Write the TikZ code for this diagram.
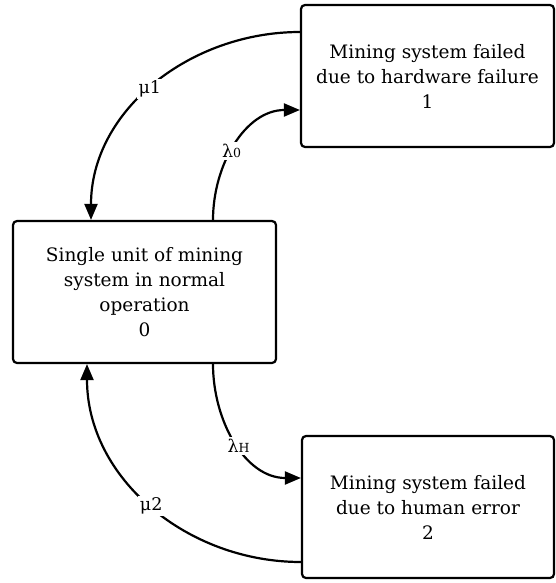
\documentclass[tikz,border=0pt]{standalone}
\usepackage{fontspec}
\setmainfont{DejaVu Serif}
\usetikzlibrary{arrows.meta}
\begin{document}
\begin{tikzpicture}[x=1pt,y=-1pt,
  state/.style={draw, line width=2.2pt, rounded corners=4pt,
    minimum height=142pt, align=center, inner sep=0pt,
    font=\fontsize{18.5}{25}\selectfont},
  trans/.style={line width=2.2pt, -{Triangle[length=16pt,width=13pt]}},
  rate/.style={fill=white, inner sep=2pt, font=\fontsize{17.5}{17.5}\selectfont}]
\useasboundingbox (0,0) rectangle (555,583);

% states of the Markov model
\node[state, minimum width=263pt] (s0) at (144.5,292)
  {Single unit of mining\\system in normal\\operation\\0};
\node[state, minimum width=253pt] (s1) at (427.5,76)
  {Mining system failed\\due to hardware failure\\1};
\node[state, minimum width=252pt] (s2) at (428,507)
  {Mining system failed\\due to human error\\2};

% transitions
\draw[trans] ([yshift=44pt]s1.west) to[out=180,in=90]
  node[rate, pos=0.52] {μ1} ([xshift=-53.5pt]s0.north);
\draw[trans] ([xshift=68.5pt]s0.north) to[out=90,in=180]
  node[rate, pos=0.45] {λ{\fontsize{12.5}{12.5}\selectfont 0}} ([yshift=-34pt]s1.west);
\draw[trans] ([xshift=68.5pt]s0.south) to[out=-90,in=180]
  node[rate, pos=0.53] {λ{\fontsize{12.5}{12.5}\selectfont H}} ([yshift=29pt]s2.west);
\draw[trans] ([yshift=-55pt]s2.west) to[out=180,in=-90]
  node[rate, pos=0.5] {μ2} ([xshift=-57.5pt]s0.south);
\end{tikzpicture}
\end{document}
